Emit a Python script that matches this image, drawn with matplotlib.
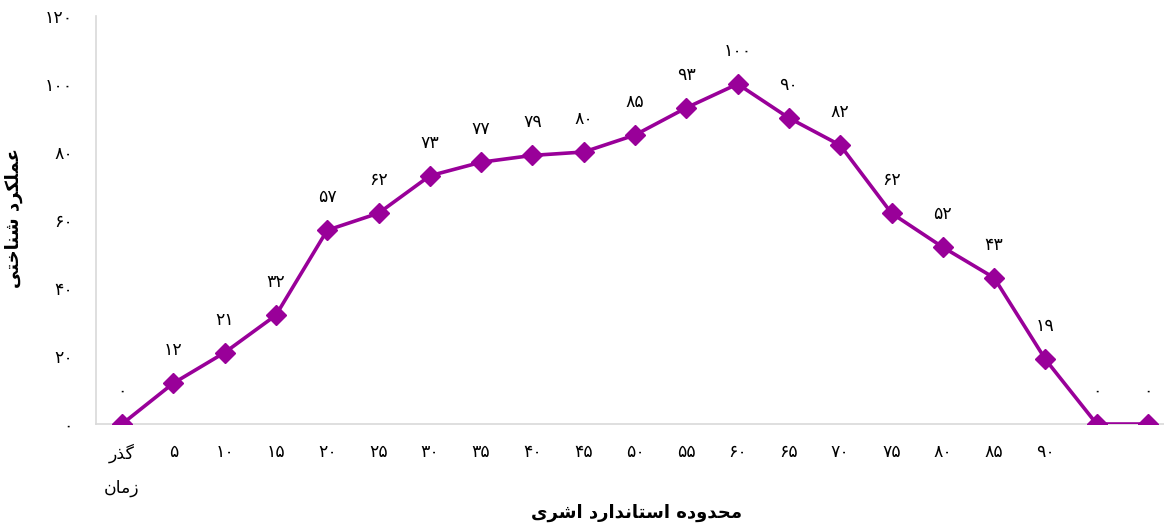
import matplotlib
matplotlib.use("Agg")
import matplotlib.pyplot as plt
from matplotlib import font_manager
from matplotlib.ft2font import FT2Font

# data
categories = ["گذر\nزمان", "5", "10", "15", "20", "25", "30", "35", "40", "45",
              "50", "55", "60", "65", "70", "75", "80", "85", "90", "", ""]
values = [0, 12, 21, 32, 57, 62, 73, 77, 79, 80, 85, 93, 100, 90, 82, 62, 52, 43, 19, 0, 0]
y_ticks = [0, 20, 40, 60, 80, 100, 120]
x_title = "محدوده استاندارد اشری"
y_title = "عملکرد شناختی"

FONT = "DejaVu Sans"
font_path = font_manager.findfont(FONT)
ft = FT2Font(font_path)


def has_glyph(ch):
    return ft.get_char_index(ord(ch)) != 0


# isolated, final, initial, medial (None = right-joining only)
FORMS = {
    "ا": ("\uFE8D", "\uFE8E", None, None),
    "ت": ("\uFE95", "\uFE96", "\uFE97", "\uFE98"),
    "ح": ("\uFEA1", "\uFEA2", "\uFEA3", "\uFEA4"),
    "خ": ("\uFEA5", "\uFEA6", "\uFEA7", "\uFEA8"),
    "د": ("\uFEA9", "\uFEAA", None, None),
    "ذ": ("\uFEAB", "\uFEAC", None, None),
    "ر": ("\uFEAD", "\uFEAE", None, None),
    "ز": ("\uFEAF", "\uFEB0", None, None),
    "س": ("\uFEB1", "\uFEB2", "\uFEB3", "\uFEB4"),
    "ش": ("\uFEB5", "\uFEB6", "\uFEB7", "\uFEB8"),
    "ع": ("\uFEC9", "\uFECA", "\uFECB", "\uFECC"),
    "ل": ("\uFEDD", "\uFEDE", "\uFEDF", "\uFEE0"),
    "م": ("\uFEE1", "\uFEE2", "\uFEE3", "\uFEE4"),
    "ن": ("\uFEE5", "\uFEE6", "\uFEE7", "\uFEE8"),
    "ه": ("\uFEE9", "\uFEEA", "\uFEEB", "\uFEEC"),
    "و": ("\uFEED", "\uFEEE", None, None),
    "ی": ("\uFBFC", "\uFBFD", "\uFBFE", "\uFBFF"),
    "ک": ("\uFB8E", "\uFB8F", "\uFB90", "\uFB91"),
    "گ": ("\uFB92", "\uFB93", "\uFB94", "\uFB95"),
}
FALLBACK = {
    "ی": ("\uFEEF", "\uFEF0", "\uFEF3", "\uFEF4"),
    "ک": ("\uFED9", "\uFEDA", "\uFEDB", "\uFEDC"),
}


def dual(ch):
    return ch in FORMS and FORMS[ch][2] is not None


def shape_line(line):
    out = []
    for i, ch in enumerate(line):
        if ch not in FORMS:
            out.append(ch)
            continue
        prev_ = line[i - 1] if i > 0 else " "
        next_ = line[i + 1] if i + 1 < len(line) else " "
        join_prev = dual(prev_)
        join_next = dual(ch) and next_ in FORMS
        idx = 3 if (join_prev and join_next) else 1 if join_prev else 2 if join_next else 0
        g = FORMS[ch][idx]
        if not has_glyph(g) and ch in FALLBACK:
            g = FALLBACK[ch][idx]
        out.append(g)
    return "".join(reversed(out))


def fa(text):
    return "\n".join(shape_line(l) for l in text.split("\n"))


def fa_num(n):
    return "".join(chr(0x06F0 + int(d)) for d in str(n))


def fa_label(s):
    return fa_num(s) if s.isdigit() else fa(s)


plt.rcParams["font.family"] = [FONT]
color = "#990099"

fig = plt.figure(figsize=(11.64, 5.26), dpi=100)
ax = fig.add_axes([0.0828, 0.1939, 0.9255, 0.7757])

x = list(range(len(values)))
ax.plot(x, values, color=color, linewidth=2.6, marker="D", markersize=10, zorder=3)

for xi, v in zip(x, values):
    ax.annotate(fa_num(v), (xi, v), textcoords="offset pixels", xytext=(0, 33),
                ha="center", va="center", fontsize=12.5, color="#000000")

ax.set_xlim(-0.5, len(values) - 0.5)
ax.set_ylim(0, 120)
ax.set_yticks(y_ticks)
ax.set_yticklabels([fa_num(t) for t in y_ticks], fontsize=12.5)
ax.set_xticks(x)
ax.set_xticklabels([fa_label(c) for c in categories], fontsize=12.5, linespacing=2.1, va="top")
ax.tick_params(axis="both", length=0)
ax.tick_params(axis="y", pad=17)
ax.tick_params(axis="x", pad=14)

for s in ["top", "right"]:
    ax.spines[s].set_visible(False)
for s in ["left", "bottom"]:
    ax.spines[s].set_color("#d9d9d9")
    ax.spines[s].set_linewidth(1.2)

fig.text(0.547, 0.025, fa(x_title), ha="center", va="center", fontsize=13, fontweight="bold")
fig.text(0.012, 0.585, fa(y_title), ha="center", va="center", fontsize=13,
         fontweight="bold", rotation=90)

fig.savefig("out.png", dpi=100)
